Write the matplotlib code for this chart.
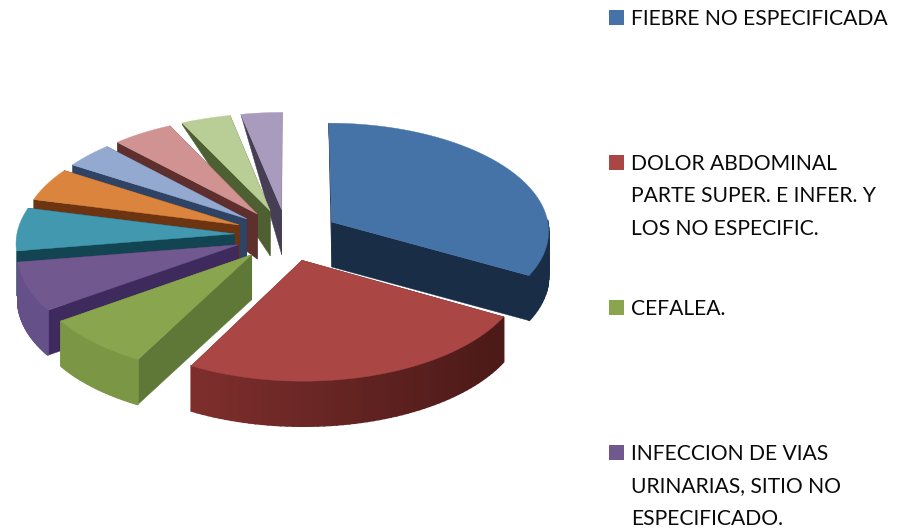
import numpy as np
import matplotlib
matplotlib.use('Agg')
import matplotlib.pyplot as plt
from matplotlib.patches import Polygon, Rectangle
from matplotlib.colors import to_rgb

categories = ['FIEBRE NO ESPECIFICADA',
              'DOLOR ABDOMINAL\nPARTE SUPER. E INFER. Y\nLOS NO ESPECIFIC.',
              'CEFALEA.',
              'INFECCION DE VIAS\nURINARIAS, SITIO NO\nESPECIFICADO.',
              '', '', '', '', '', '']
values = [33.1, 24.7, 7.5, 7.2, 6.4, 5.0, 3.9, 4.9, 4.0, 3.3]

top_colors = ['#4573a7', '#aa4643', '#89a54e', '#71588f', '#4198af',
              '#db843d', '#93a9cf', '#d19392', '#b9cd96', '#a99bbd']
side_colors = ['#1a2d47', '#4c1a18', '#5f7837', '#3f2a5e', '#124452',
               '#6c3410', '#2f4364', '#5e2f2d', '#4e5f32', '#453e55']
rim_left = ['#1a2d47', '#7f2f2d', '#7b9645', '#65508a']

cx, cy = 287, 235
rx, ry = 218, 108
persp = 0.074
explode = 0.24
depth = 45


def project(u, v):
    s = 1 / (1 - persp * v)
    return cx + rx * u * s, cy + ry * v * s


def drop(v):
    # back of the pie has almost no visible thickness
    return depth * np.clip((v + 1.15) / 0.75, 0, 1)


fig = plt.figure(figsize=(9.23, 5.28), dpi=100)
ax = fig.add_axes([0, 0, 1, 1])
ax.set_xlim(0, 923)
ax.set_ylim(528, 0)
ax.axis('off')

edges = np.cumsum([0] + values) / sum(values) * 360
mids = (edges[:-1] + edges[1:]) / 2
order = np.argsort(-np.cos(np.radians(mids)))

for i in order:
    a0, a1 = np.radians(edges[i]), np.radians(edges[i + 1])
    mid = np.radians(mids[i])
    ou, ov = explode * np.sin(mid), -explode * np.cos(mid)
    ang = np.linspace(a0, a1, 60)
    us = ou + np.sin(ang)
    vs = ov - np.cos(ang)
    xs, ys = project(us, vs)
    ax0, ay0 = project(ou, ov)
    d0 = drop(ov)

    # radial walls
    for k in (0, -1):
        wall = [(ax0, ay0), (xs[k], ys[k]), (xs[k], ys[k] + drop(vs[k])), (ax0, ay0 + d0)]
        ax.add_patch(Polygon(wall, closed=True, fc=side_colors[i], ec=side_colors[i], lw=0.3))

    # outer wall, only the big front slices show one
    if i < 4:
        c_l, c_r = np.array(to_rgb(rim_left[i])), np.array(to_rgb(side_colors[i]))
        for j in range(len(ang) - 1):
            if -np.cos(ang[j]) < 0 and -np.cos(ang[j + 1]) < 0:
                continue
            col = c_l
            if i == 1:
                t = np.clip((xs[j] - 187) / 310, 0, 1)
                col = c_l * (1 - t) + c_r * t
            strip = [(xs[j], ys[j]), (xs[j + 1], ys[j + 1]),
                     (xs[j + 1], ys[j + 1] + drop(vs[j + 1])), (xs[j], ys[j] + drop(vs[j]))]
            ax.add_patch(Polygon(strip, closed=True, fc=col, ec=col, lw=1.2))

    # top face
    face = [(ax0, ay0)] + list(zip(xs, ys))
    ax.add_patch(Polygon(face, closed=True, fc=top_colors[i], ec=top_colors[i], lw=0.3))

# legend, cut off by the image like in the original
legend_y = [25, 170, 315, 460]
for n, y in enumerate(legend_y):
    ax.add_patch(Rectangle((609, y - 15), 15, 15, fc=top_colors[n], ec='none'))
    for m, line in enumerate(categories[n].split('\n')):
        ax.text(631, y + m * 32.5, line, fontsize=15.2, family='Lato', color='#0a0a0a',
                va='baseline', ha='left')

fig.savefig('out.png', dpi=100)
